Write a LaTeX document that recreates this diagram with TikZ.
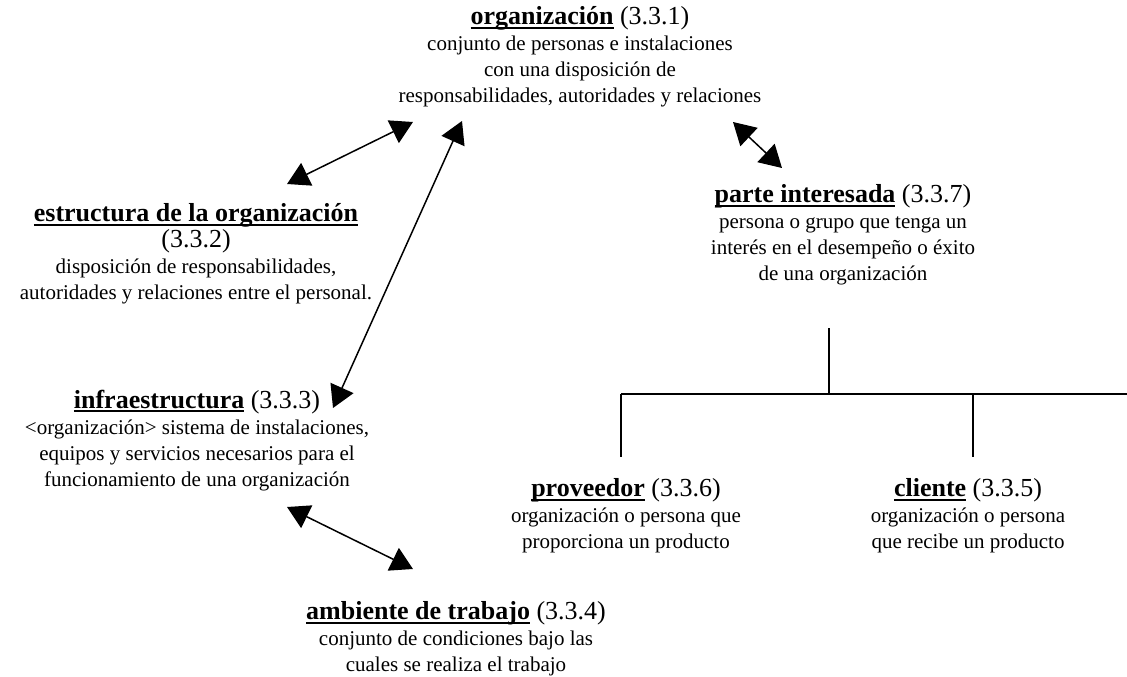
\documentclass[tikz,border=0pt]{standalone}
\usepackage{fontspec}
\setmainfont{Liberation Serif}
\usetikzlibrary{arrows.meta}

\newcommand{\tsize}{\fontsize{26}{26}\selectfont}
\newcommand{\subr}[1]{\setbox0\hbox{\bfseries #1}\rlap{\rule[-4pt]{\wd0}{2pt}}\box0{}}

\begin{document}
\begin{tikzpicture}[x=1pt,y=-1pt,>={Triangle[length=22pt,width=25pt]},line width=1.5pt,
    concepto/.style={align=center,anchor=north,inner sep=0pt,font=\fontsize{21}{26}\selectfont}]
  \useasboundingbox (0,0) rectangle (1127,677);
  \node[concepto] (org)   at (580,6)   {{\tsize\subr{organización} (3.3.1)}\\
                                        conjunto de personas e instalaciones\\
                                        con una disposición de\\
                                        responsabilidades, autoridades y relaciones};
  \node[concepto] (estr)  at (196,203) {{\tsize\subr{estructura de la organización}}\\
                                        {\tsize (3.3.2)}\\
                                        disposición de responsabilidades,\\
                                        autoridades y relaciones entre el personal.};
  \node[concepto] (infra) at (197,389) {{\tsize\subr{infraestructura} (3.3.3)}\\
                                        <organización> sistema de instalaciones,\\
                                        equipos y servicios necesarios para el\\
                                        funcionamiento de una organización};
  \node[concepto] (amb)   at (456,601) {{\tsize\subr{ambiente de trabajo} (3.3.4)}\\
                                        conjunto de condiciones bajo las\\
                                        cuales se realiza el trabajo};
  \node[concepto] (parte) at (843,184) {{\tsize\subr{parte interesada} (3.3.7)}\\
                                        persona o grupo que tenga un\\
                                        interés en el desempeño o éxito\\
                                        de una organización};
  \node[concepto] (prov)  at (626,478) {{\tsize\subr{proveedor} (3.3.6)}\\
                                        organización o persona que\\
                                        proporciona un producto};
  \node[concepto] (cli)   at (968,478) {{\tsize\subr{cliente} (3.3.5)}\\
                                        organización o persona\\
                                        que recibe un producto};

  % extremos de las flechas
  \coordinate (org-estr)  at (413,122);
  \coordinate (estr-org)  at (287,184);
  \coordinate (org-infra) at (462,121);
  \coordinate (infra-org) at (333,408);
  \coordinate (org-parte) at (733,122);
  \coordinate (parte-org) at (782,168);
  \coordinate (infra-amb) at (287,507);
  \coordinate (amb-infra) at (413,569);
  \path[<->] (org-estr)  edge (estr-org);
  \path[<->] (org-infra) edge (infra-org);
  \path[<->] (org-parte) edge (parte-org);
  \path[<->] (infra-amb) edge (amb-infra);

  % arbol de parte interesada
  \coordinate (stem)  at (829,328);
  \coordinate (junc)  at (829,394);
  \coordinate (bar-l) at (621,394);
  \coordinate (bar-c) at (973,394);
  \coordinate (bar-r) at (1127,394);
  \coordinate (leg-l) at (621,457);
  \coordinate (leg-c) at (973,457);
  \draw (stem) -- (junc);
  \draw (bar-l) -- (bar-r);
  \draw (bar-l) -- (leg-l);
  \draw (bar-c) -- (leg-c);
\end{tikzpicture}
\end{document}
